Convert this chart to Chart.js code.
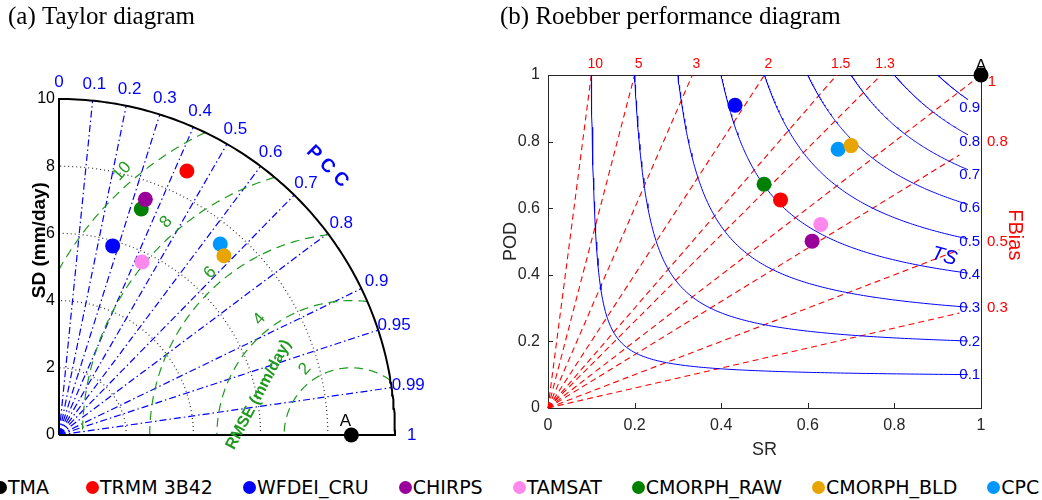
<!DOCTYPE html>
<html>
<head>
<meta charset="utf-8">
<script src="https://cdn.jsdelivr.net/npm/chart.js@4.4.1/dist/chart.umd.min.js"></script>
<style>
  html, body { margin: 0; padding: 0; background: #fff; }
  body { width: 1042px; height: 500px; position: relative; overflow: hidden; }
  #taylor { position: absolute; left: 0; top: 0; }
  #roebber { position: absolute; left: 490px; top: 0; }
  #legend { position: absolute; left: 0; top: 474px; width: 1042px; height: 26px;
            display: flex; justify-content: flex-start; align-items: center;
            white-space: nowrap; overflow: hidden;
            font-family: 'DejaVu Sans', sans-serif; font-size: 19px; color: #000; }
  .item { display: flex; align-items: center; flex: none; margin-right: 30px; }
  .item:first-child { margin-left: -6px; margin-right: 37px; }
  .dot { width: 13px; height: 13px; border-radius: 50%; margin-right: 1px; }
</style>
</head>
<body>
<canvas id="taylor" width="490" height="470"></canvas>
<canvas id="roebber" width="552" height="470"></canvas>
<div id="legend"></div>
<script>
// products, first one is the reference (gauge data)
const products = ['TMA', 'TRMM 3B42', 'WFDEI_CRU', 'CHIRPS', 'TAMSAT', 'CMORPH_RAW', 'CMORPH_BLD', 'CPC'];
const colors = ['#000000', '#ff0000', '#0000ff', '#990099', '#ff88ee', '#008000', '#e8a400', '#0096ff'];

// Taylor diagram: standard deviation (mm/day) and correlation
const sdValues = [8.70, 8.73, 5.85, 7.47, 5.71, 7.16, 7.25, 7.44];
const ccValues = [1.00, 0.436, 0.273, 0.344, 0.433, 0.342, 0.677, 0.645];

// Roebber diagram: success ratio and probability of detection
const srValues = [1.00, 0.537, 0.432, 0.610, 0.630, 0.499, 0.700, 0.670];
const podValues = [1.00, 0.625, 0.909, 0.501, 0.551, 0.672, 0.788, 0.777];

// reference lines / tick labels
const sdMax = 10;
const sdTicks = [2, 4, 6, 8];
const ccTicks = [0, 0.1, 0.2, 0.3, 0.4, 0.5, 0.6, 0.7, 0.8, 0.9, 0.95, 0.99, 1];
const rmseTicks = [2, 4, 6, 8, 10];
const tsTicks = [0.1, 0.2, 0.3, 0.4, 0.5, 0.6, 0.7, 0.8, 0.9];
const biasTicks = [10, 5, 3, 2, 1.5, 1.3, 1, 0.8, 0.5, 0.3];

Chart.defaults.font.family = "'Liberation Sans', Arial, sans-serif";
Chart.defaults.animation = false;
Chart.defaults.events = [];

const deg = Math.PI / 180;
const titleFont = { family: "'Liberation Serif', 'Times New Roman', serif", size: 25, weight: 'normal' };

function lineSet(data, color, width, dash) {
  return { data: data, showLine: true, pointRadius: 0, borderColor: color,
           borderWidth: width, borderDash: dash || [], clip: false, fill: false };
}

function drawText(ctx, str, x, y, o) {
  ctx.save();
  ctx.translate(x, y);
  ctx.rotate((o.rot || 0) * deg);
  ctx.font = o.font;
  ctx.fillStyle = o.color;
  ctx.textAlign = o.align || 'center';
  ctx.textBaseline = o.base || 'middle';
  ctx.fillText(str, 0, 0);
  ctx.restore();
}

function pix(chart, x, y) {
  return { x: chart.scales.x.getPixelForValue(x), y: chart.scales.y.getPixelForValue(y) };
}

// ---------------- (a) Taylor diagram ----------------
const ref = sdValues[0];

function arcPoints(cx, r, a0, a1) {
  const pts = [];
  for (let i = 0; i <= 120; i++) {
    const a = a0 + (a1 - a0) * i / 120;
    pts.push({ x: cx + r * Math.cos(a), y: r * Math.sin(a) });
  }
  return pts;
}

function rmseArc(rho) {
  let a0 = 0, a1 = Math.PI;
  if (ref + rho > sdMax) {
    const x = (sdMax * sdMax - rho * rho + ref * ref) / (2 * ref);
    a0 = Math.acos((x - ref) / rho);
  }
  if (ref - rho < 0) a1 = Math.acos(-ref / rho);
  return arcPoints(ref, rho, a0, a1);
}

const taylorSets = [];
products.forEach((p, i) => {
  const a = Math.acos(ccValues[i]);
  taylorSets.push({ label: p, data: [{ x: sdValues[i] * Math.cos(a), y: sdValues[i] * Math.sin(a) }],
    backgroundColor: colors[i], borderColor: colors[i], pointRadius: 7.5, pointBorderWidth: 0, clip: false });
});
// frame: axes and outer arc
taylorSets.push(lineSet([{ x: 0, y: 0 }, { x: sdMax, y: 0 }].concat(arcPoints(0, sdMax, 0, 90 * deg), [{ x: 0, y: 0 }]), '#000', 2));
rmseTicks.forEach(r => taylorSets.push(lineSet(rmseArc(r), '#1f9a1f', 1.2, [9, 6])));
ccTicks.filter(c => c > 0 && c < 1).forEach(c => {
  const a = Math.acos(c);
  taylorSets.push(lineSet([{ x: 0, y: 0 }, { x: sdMax * Math.cos(a), y: sdMax * Math.sin(a) }], '#0000ff', 1.2, [7, 3, 1.5, 3]));
});
sdTicks.forEach(r => taylorSets.push(lineSet(arcPoints(0, r, 0, 90 * deg), '#333', 1.2, [1, 3])));

const taylorLabels = {
  id: 'taylorLabels',
  beforeDatasetsDraw(chart) {
    const p = pix(chart, ref, 0);
    drawText(chart.ctx, 'A', p.x - 6, p.y - 14, { font: '17px "Liberation Sans"', color: '#000' });
  },
  afterDatasetsDraw(chart) {
    const ctx = chart.ctx;
    ccTicks.forEach(c => {
      const a = Math.acos(c);
      const p = pix(chart, 10.5 * Math.cos(a), 10.5 * Math.sin(a));
      drawText(ctx, String(c), p.x, p.y, { font: '17px "Liberation Sans"', color: '#0000ff' });
    });
    rmseTicks.forEach(r => {
      const a = Math.min(131, 122 + 1.6 * r) * deg;
      const p = pix(chart, ref + (r + 0.4) * Math.cos(a), (r + 0.4) * Math.sin(a));
      drawText(ctx, String(r), p.x, p.y, { font: '17px "Liberation Sans"', color: '#1f9a1f', rot: -48 });
    });
    let p = pix(chart, 11.3 * Math.cos(45 * deg), 11.3 * Math.sin(45 * deg));
    drawText(ctx, 'P C C', p.x, p.y, { font: 'bold 19px "Liberation Sans"', color: '#0000ff', rot: 45 });
    p = pix(chart, 5.94, 1.2);
    drawText(ctx, 'RMSE (mm/day)', p.x, p.y, { font: 'bold 16px "Liberation Sans"', color: '#1f9a1f', rot: -62 });
    p = pix(chart, 0, 5.8);
    drawText(ctx, 'SD (mm/day)', p.x - 19, p.y, { font: 'bold 19px "Liberation Sans"', color: '#000', rot: -90 });
  }
};

new Chart(document.getElementById('taylor'), {
  type: 'scatter',
  data: { datasets: taylorSets },
  options: {
    responsive: false,
    layout: { padding: { left: 8, right: 95, top: 0, bottom: 35 } },
    plugins: {
      legend: { display: false },
      tooltip: { enabled: false },
      title: { display: true, text: '(a) Taylor diagram', align: 'start', color: '#000',
               font: titleFont, padding: { top: 2, bottom: 67 } }
    },
    scales: {
      x: { type: 'linear', min: 0, max: sdMax, display: false },
      y: { type: 'linear', min: 0, max: sdMax,
           ticks: { stepSize: 2, color: '#000', padding: 4, font: { size: 16 } },
           grid: { display: false, drawTicks: false }, border: { display: false },
           afterFit(scale) { scale.width = 51; } }
    }
  },
  plugins: [taylorLabels]
});

// ---------------- (b) Roebber performance diagram ----------------
const roebberSets = [];
products.forEach((p, i) => {
  roebberSets.push({ label: p, data: [{ x: srValues[i], y: podValues[i] }],
    backgroundColor: colors[i], borderColor: colors[i], pointRadius: 7.5, pointBorderWidth: 0, clip: false });
});
tsTicks.forEach(ts => {
  const pts = [];
  for (let i = 0; i <= 150; i++) {
    const sr = ts + (0.97 - ts) * Math.pow(i / 150, 2);
    pts.push({ x: sr, y: 1 / (1 / ts + 1 - 1 / sr) });
  }
  roebberSets.push(lineSet(pts, '#0000ff', 1));
});
biasTicks.forEach(b => {
  const end = b > 1 ? 1 / b : (b === 1 ? 0.98 : 0.95);
  roebberSets.push(lineSet([{ x: 0, y: 0 }, { x: end, y: end * b }], '#ff0000', 1.1, [6, 4]));
});

const tickText = v => String(Number(v.toFixed(2)));

const roebberLabels = {
  id: 'roebberLabels',
  beforeDatasetsDraw(chart) {
    const ctx = chart.ctx;
    const a = chart.chartArea;
    // box and inward ticks
    ctx.save();
    ctx.strokeStyle = '#262626';
    ctx.lineWidth = 1;
    ctx.strokeRect(a.left + 0.5, a.top + 0.5, a.right - a.left, a.bottom - a.top);
    ctx.beginPath();
    chart.scales.x.ticks.forEach(t => {
      const x = Math.round(chart.scales.x.getPixelForValue(t.value)) + 0.5;
      ctx.moveTo(x, a.bottom); ctx.lineTo(x, a.bottom - 5);
    });
    chart.scales.y.ticks.forEach(t => {
      const y = Math.round(chart.scales.y.getPixelForValue(t.value)) + 0.5;
      ctx.moveTo(a.left, y); ctx.lineTo(a.left + 5, y);
    });
    ctx.stroke();
    ctx.beginPath();
    ctx.restore();
    const p = pix(chart, srValues[0], podValues[0]);
    drawText(ctx, 'A', p.x, p.y - 9, { font: '17px "Liberation Sans"', color: '#000' });
  },
  afterDatasetsDraw(chart) {
    const ctx = chart.ctx;
    const a = chart.chartArea;
    biasTicks.forEach(b => {
      if (b > 1) {
        const p = pix(chart, 1 / b, 1);
        drawText(ctx, String(b), p.x + 4, a.top - 11, { font: '14px "Liberation Sans"', color: '#ff0000' });
      } else if (b === 1) {
        const p = pix(chart, 1, 1);
        drawText(ctx, '1', p.x + 11, p.y + 7, { font: '15px "Liberation Sans"', color: '#ff0000' });
      } else {
        const p = pix(chart, 1, b);
        drawText(ctx, String(b), p.x + 6, p.y, { font: '15px "Liberation Sans"', color: '#ff0000', align: 'left' });
      }
    });
    tsTicks.forEach(ts => {
      const p = pix(chart, 0.95, ts);
      drawText(ctx, String(ts), p.x, p.y, { font: '15px "Liberation Sans"', color: '#0000ff', align: 'left' });
    });
    let p = pix(chart, 0.915, 0.455);
    drawText(ctx, 'TS', p.x, p.y, { font: 'italic 20px "Liberation Sans"', color: '#0000ff', rot: 15 });
    p = pix(chart, 1, 0.52);
    drawText(ctx, 'FBias', p.x + 34, p.y, { font: '20px "Liberation Sans"', color: '#ff0000', rot: 90 });
  }
};

new Chart(document.getElementById('roebber'), {
  type: 'scatter',
  data: { datasets: roebberSets },
  options: {
    responsive: false,
    layout: { padding: { left: 10, right: 61, top: 0, bottom: 7 } },
    plugins: {
      legend: { display: false },
      tooltip: { enabled: false },
      title: { display: true, text: '(b) Roebber performance diagram', align: 'start', color: '#000',
               font: titleFont, padding: { top: 2, bottom: 43 } }
    },
    scales: {
      x: { type: 'linear', min: 0, max: 1,
           ticks: { stepSize: 0.2, color: '#262626', padding: 8, font: { size: 16 }, callback: tickText },
           grid: { display: false, drawTicks: false }, border: { display: false },
           title: { display: true, text: 'SR', color: '#262626', font: { size: 18 }, padding: { top: 0, bottom: 2 } },
           afterFit(scale) { scale.height = 55; } },
      y: { type: 'linear', min: 0, max: 1,
           ticks: { stepSize: 0.2, color: '#262626', padding: 8, font: { size: 16 }, callback: tickText },
           grid: { display: false, drawTicks: false }, border: { display: false },
           title: { display: true, text: 'POD', color: '#262626', font: { size: 18 }, padding: { top: 0, bottom: 0 } },
           afterFit(scale) { scale.width = 48; } }
    }
  },
  plugins: [roebberLabels]
});

// ---------------- legend ----------------
const legend = document.getElementById('legend');
products.forEach((p, i) => {
  const item = document.createElement('span');
  item.className = 'item';
  const dot = document.createElement('span');
  dot.className = 'dot';
  dot.style.background = colors[i];
  item.appendChild(dot);
  item.appendChild(document.createTextNode(p));
  legend.appendChild(item);
});
</script>
</body>
</html>
